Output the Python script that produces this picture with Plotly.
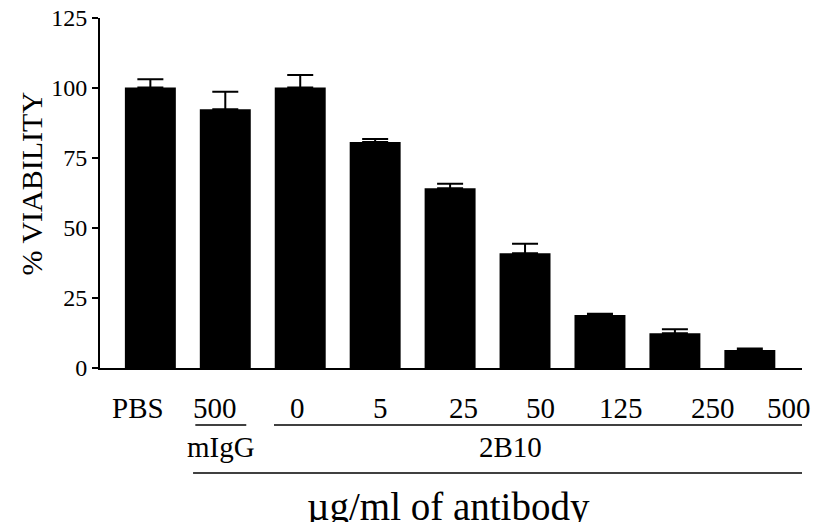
import plotly.graph_objects as go

# ---- data ----
groups = ["PBS", "mIgG", "2B10", "2B10", "2B10", "2B10", "2B10", "2B10", "2B10"]
dose_labels = ["PBS", "500", "0", "5", "25", "50", "125", "250", "500"]
viability = [100.2, 92.4, 100.2, 80.7, 64.2, 41.0, 18.9, 12.4, 6.4]
sem = [2.9, 6.3, 4.4, 1.1, 1.6, 3.4, 0.5, 1.4, 0.6]
y_ticks = [0, 25, 50, 75, 100, 125]

# ---- layout helpers ----
FONT = "Liberation Serif"
label_offsets = [-0.17, -0.14, -0.04, 0.07, 0.18, 0.20, 0.28, 0.51, 0.52]
x_pos = list(range(len(viability)))

def py(px):
    # pixel row -> paper y
    return (368 - px) / 350.0

fig = go.Figure()
fig.add_trace(go.Bar(
    x=x_pos, y=viability, width=0.68,
    marker=dict(color="black", line=dict(width=0)),
    error_y=dict(type="data", array=sem, arrayminus=[0] * len(sem),
                 symmetric=False, color="black", thickness=2, width=13),
    showlegend=False,
))

annotations = []
for i, lab in enumerate(dose_labels):
    annotations.append(dict(x=i + label_offsets[i], y=py(408), xref="x", yref="paper",
                            text=lab, showarrow=False, xanchor="center", yanchor="middle",
                            font=dict(family=FONT, size=29, color="black")))
annotations.append(dict(x=0.94, y=py(447), xref="x", yref="paper", text="mIgG",
                        showarrow=False, xanchor="center", yanchor="middle",
                        font=dict(family=FONT, size=29, color="black")))
annotations.append(dict(x=4.8, y=py(447), xref="x", yref="paper", text="2B10",
                        showarrow=False, xanchor="center", yanchor="middle",
                        font=dict(family=FONT, size=29, color="black")))
annotations.append(dict(x=3.98, y=py(507), xref="x", yref="paper", text="µg/ml of antibody",
                        showarrow=False, xanchor="center", yanchor="middle",
                        font=dict(family=FONT, size=39, color="black")))
annotations.append(dict(x=(31.6 - 100) / 702.0, y=0.526, xref="paper", yref="paper",
                        text="% VIABILITY", textangle=-90, showarrow=False,
                        xanchor="center", yanchor="middle",
                        font=dict(family=FONT, size=30, color="black")))

line_style = dict(color="black", width=1.5)
shapes = [
    dict(type="line", xref="x", yref="paper", x0=0.60, x1=1.28, y0=py(425), y1=py(425), line=line_style),
    dict(type="line", xref="x", yref="paper", x0=1.65, x1=8.97, y0=py(425), y1=py(425), line=line_style),
    dict(type="line", xref="x", yref="paper", x0=0.57, x1=8.97, y0=py(473), y1=py(473), line=line_style),
]

fig.update_layout(
    width=825, height=522,
    margin=dict(l=92, r=31, t=10, b=162, autoexpand=False),
    plot_bgcolor="white", paper_bgcolor="white",
    xaxis=dict(range=[-0.672, 8.696], showticklabels=False, ticks="", showline=True,
               linecolor="black", linewidth=2, showgrid=False, zeroline=False,
               fixedrange=True, automargin=False),
    yaxis=dict(range=[0, 125], tickvals=y_ticks, ticks="outside", ticklen=6, tickwidth=2,
               tickcolor="black", showline=True, linecolor="black", linewidth=2,
               showgrid=False, zeroline=False, ticklabeloverflow="allow", automargin=False,
               tickfont=dict(family=FONT, size=24, color="black")),
    annotations=annotations, shapes=shapes,
)

fig.write_html("out.html")
